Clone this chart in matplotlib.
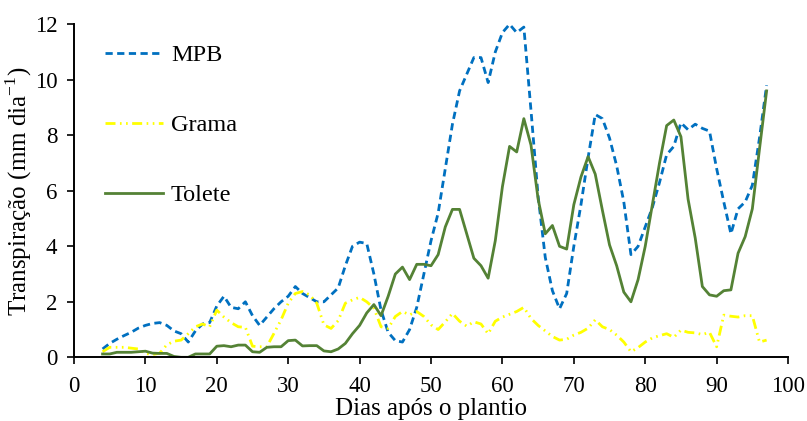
import matplotlib
matplotlib.use("Agg")
import matplotlib.pyplot as plt

plt.rcParams["font.family"] = ["Liberation Serif", "DejaVu Serif"]
plt.rcParams["mathtext.fontset"] = "custom"
plt.rcParams["mathtext.rm"] = "Liberation Serif"

dias = list(range(4, 98))

mpb = [
    0.3, 0.5, 0.65, 0.78, 0.9, 1.05, 1.15, 1.22, 1.25, 1.15,
    0.95, 0.85, 0.55, 0.95, 1.2, 1.25, 1.85, 2.2, 1.8, 1.75,
    2.0, 1.5, 1.15, 1.45, 1.75, 2.0, 2.2, 2.55, 2.3, 2.15,
    2.0, 2.0, 2.25, 2.5, 3.3, 4.0, 4.15, 4.1, 3.0, 1.7,
    0.9, 0.6, 0.55, 1.0, 1.8, 3.0, 4.2, 5.2, 6.8, 8.4,
    9.6, 10.2, 10.8, 10.8, 9.9, 11.0, 11.7, 12.0, 11.7, 11.9,
    8.9, 5.8, 3.6, 2.4, 1.75, 2.3, 4.0, 5.5, 7.2, 8.75,
    8.6, 7.9, 6.9, 5.6, 3.7, 4.0, 4.7, 5.4, 6.3, 7.3,
    7.6, 8.45, 8.2, 8.4, 8.25, 8.15, 6.8, 5.6, 4.45, 5.35,
    5.6, 6.2, 7.9, 9.8,
]

grama = [
    0.2, 0.36, 0.36, 0.36, 0.33, 0.3, 0.14, 0.1, 0.15, 0.45,
    0.58, 0.62, 0.85, 1.1, 1.2, 1.1, 1.7, 1.45, 1.25, 1.1,
    1.08, 0.4, 0.38, 0.38, 0.86, 1.35, 1.95, 2.3, 2.37, 2.25,
    1.95, 1.17, 1.04, 1.32, 1.95, 2.07, 2.16, 2.0, 1.77, 1.1,
    1.04, 1.47, 1.65, 1.53, 1.65, 1.47, 1.17, 1.0, 1.28, 1.58,
    1.3, 1.12, 1.28, 1.2, 0.85, 1.3, 1.45, 1.55, 1.65, 1.8,
    1.4, 1.15, 0.95, 0.75, 0.62, 0.65, 0.8, 0.9, 1.05, 1.35,
    1.1, 1.0, 0.8, 0.55, 0.2, 0.35, 0.55, 0.7, 0.78, 0.85,
    0.72, 0.98, 0.9, 0.88, 0.82, 0.9, 0.38, 1.52, 1.48, 1.45,
    1.5, 1.5, 0.55, 0.62,
]

tolete = [
    0.12, 0.12, 0.18, 0.18, 0.18, 0.2, 0.22, 0.15, 0.14, 0.14,
    0.03, 0.0, 0.0, 0.12, 0.12, 0.12, 0.4, 0.42, 0.38, 0.44,
    0.44, 0.2, 0.18, 0.36, 0.38, 0.38, 0.6, 0.62, 0.41, 0.42,
    0.42, 0.23, 0.2, 0.3, 0.5, 0.85, 1.15, 1.6, 1.9, 1.5,
    2.2, 3.0, 3.25, 2.8, 3.35, 3.35, 3.3, 3.7, 4.7, 5.33,
    5.33, 4.45, 3.57, 3.3, 2.85, 4.2, 6.15, 7.6, 7.4, 8.6,
    7.65, 5.7, 4.45, 4.75, 4.0, 3.9, 5.5, 6.5, 7.23, 6.6,
    5.3, 4.05, 3.3, 2.35, 2.0, 2.8, 4.0, 5.5, 7.0, 8.35,
    8.55, 7.95, 5.7, 4.3, 2.55, 2.25, 2.2, 2.4, 2.43, 3.75,
    4.35, 5.35, 7.5, 9.6,
]

fig = plt.figure(figsize=(8.07, 4.21), dpi=100)
ax = fig.add_axes([0.0917, 0.1513, 0.8848, 0.791])

ax.plot(dias, mpb, color="#0070C0", lw=2, dashes=(2.6, 1.6), label="MPB")
ax.plot(dias, grama, color="#FFFF00", lw=2,
        dashes=(3.6, 1.6, 0.6, 1.6, 0.6, 1.6), label="Grama")
ax.plot(dias, tolete, color="#548235", lw=2, label="Tolete")

ax.set_xlim(0, 100)
ax.set_ylim(0, 12)
ax.set_xticks(range(0, 101, 10))
ax.set_yticks(range(0, 13, 2))

for side in ["top", "right"]:
    ax.spines[side].set_visible(False)
for side in ["left", "bottom"]:
    ax.spines[side].set_linewidth(1.4)
ax.tick_params(direction="out", length=5, width=1.2, labelsize=16.5)
ax.tick_params(axis="x", pad=8.5)
ax.tick_params(axis="y", pad=7)

ax.set_xlabel("Dias após o plantio", fontsize=18, labelpad=0.5)
ax.set_ylabel("Transpiração (mm dia$^{-1}$)", fontsize=18, labelpad=0.5)

ax.legend(loc="upper left", bbox_to_anchor=(0.130, 0.895),
          bbox_transform=fig.transFigure, frameon=False, fontsize=17.5,
          handlelength=2.4, handletextpad=0.32, labelspacing=1.98,
          borderpad=0, borderaxespad=0)

fig.savefig("out.png", dpi=100)
